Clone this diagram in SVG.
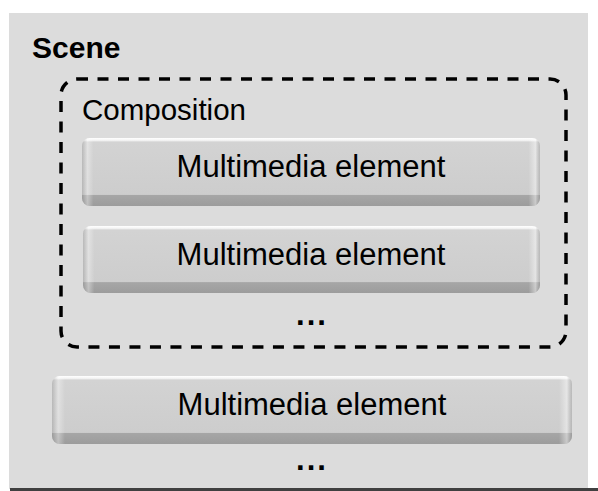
<svg xmlns="http://www.w3.org/2000/svg" width="598" height="491" viewBox="0 0 598 491">
  <defs>
    <!-- bevelled key face: white top lip, flat face, darker bottom ledge -->
    <linearGradient id="keyFace" x1="0" y1="0" x2="0" y2="1">
      <stop offset="0" stop-color="#ffffff"/>
      <stop offset="0.035" stop-color="#f4f4f4"/>
      <stop offset="0.06" stop-color="#d3d3d3"/>
      <stop offset="0.83" stop-color="#cdcdcd"/>
      <stop offset="0.845" stop-color="#a6a6a6"/>
      <stop offset="1" stop-color="#9c9c9c"/>
    </linearGradient>
    <!-- soft side shading on the left and right ends -->
    <linearGradient id="keySides" x1="0" y1="0" x2="1" y2="0">
      <stop offset="0" stop-color="#8a8a8a" stop-opacity="0.35"/>
      <stop offset="0.012" stop-color="#ffffff" stop-opacity="0.35"/>
      <stop offset="0.025" stop-color="#ffffff" stop-opacity="0"/>
      <stop offset="0.975" stop-color="#ffffff" stop-opacity="0"/>
      <stop offset="0.99" stop-color="#ffffff" stop-opacity="0.45"/>
      <stop offset="1" stop-color="#8a8a8a" stop-opacity="0.35"/>
    </linearGradient>
  </defs>
  <style>
    .scene { fill: #dcdcdc; }
    .floor { fill: #404040; }
    .key { fill: url(#keyFace); }
    .keySide { fill: url(#keySides); }
    .txt { font-family: "Liberation Sans", Arial, sans-serif; fill: #000; }
    .label { font-size: 31px; text-anchor: middle; }
    .title { font-size: 30px; font-weight: bold; }
    .caption { font-size: 29.5px; }
    .dots { font-size: 31px; font-weight: bold; text-anchor: middle; letter-spacing: 2px; }
    .group { fill: none; stroke: #000; stroke-width: 3.5; stroke-dasharray: 11 9.5; }
  </style>

  <!-- scene panel -->
  <g id="scene">
    <rect class="scene" x="9" y="13" width="579" height="476"/>
    <rect class="floor" x="10" y="488" width="588" height="3"/>
    <text class="txt title" x="32" y="58">Scene</text>
  </g>

  <!-- composition group -->
  <g id="composition">
    <rect class="group" x="61" y="79" width="505" height="268" rx="16" ry="16"/>
    <text class="txt caption" x="82" y="120">Composition</text>
  </g>

  <g id="element1">
    <rect class="key" x="82" y="138" width="458" height="68" rx="8" ry="8"/>
    <rect class="keySide" x="82" y="138" width="458" height="68" rx="8" ry="8"/>
    <text class="txt label" x="311" y="177">Multimedia element</text>
  </g>

  <g id="element2">
    <rect class="key" x="83" y="226" width="457" height="67" rx="8" ry="8"/>
    <rect class="keySide" x="83" y="226" width="457" height="67" rx="8" ry="8"/>
    <text class="txt label" x="311" y="265">Multimedia element</text>
  </g>

  <g id="more-in-composition">
    <text class="txt dots" x="312" y="325">...</text>
  </g>

  <g id="element3">
    <rect class="key" x="52" y="376" width="520" height="68" rx="8" ry="8"/>
    <rect class="keySide" x="52" y="376" width="520" height="68" rx="8" ry="8"/>
    <text class="txt label" x="312" y="415">Multimedia element</text>
  </g>

  <g id="more-in-scene">
    <text class="txt dots" x="312" y="470">...</text>
  </g>

  <g id="connectors"/>
</svg>
